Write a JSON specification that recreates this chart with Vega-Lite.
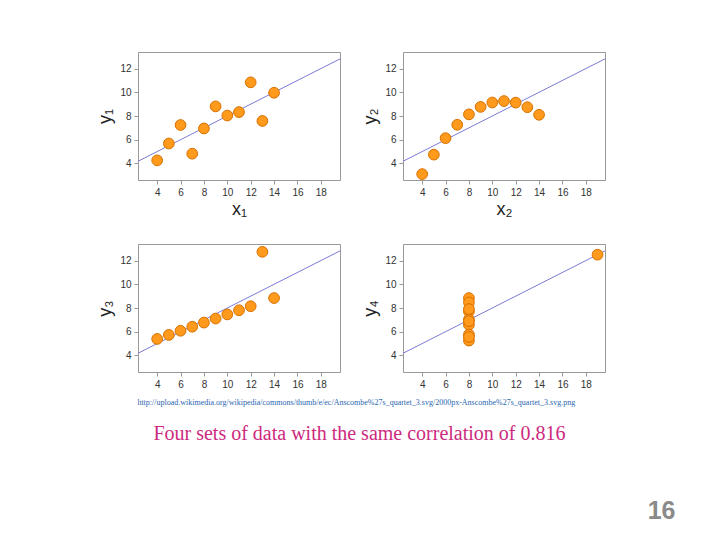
{
  "$schema": "https://vega.github.io/schema/vega-lite/v6.json",
  "background": "white",
  "padding": {"left": 96, "top": 51, "right": 5, "bottom": 5},
  "datasets": {
    "anscombe": [
      {"set": "I", "x": 10, "y": 8.04}, {"set": "I", "x": 8, "y": 6.95}, {"set": "I", "x": 13, "y": 7.58}, {"set": "I", "x": 9, "y": 8.81}, {"set": "I", "x": 11, "y": 8.33}, {"set": "I", "x": 14, "y": 9.96}, {"set": "I", "x": 6, "y": 7.24}, {"set": "I", "x": 4, "y": 4.26}, {"set": "I", "x": 12, "y": 10.84}, {"set": "I", "x": 7, "y": 4.82}, {"set": "I", "x": 5, "y": 5.68},
      {"set": "II", "x": 10, "y": 9.14}, {"set": "II", "x": 8, "y": 8.14}, {"set": "II", "x": 13, "y": 8.74}, {"set": "II", "x": 9, "y": 8.77}, {"set": "II", "x": 11, "y": 9.26}, {"set": "II", "x": 14, "y": 8.10}, {"set": "II", "x": 6, "y": 6.13}, {"set": "II", "x": 4, "y": 3.10}, {"set": "II", "x": 12, "y": 9.13}, {"set": "II", "x": 7, "y": 7.26}, {"set": "II", "x": 5, "y": 4.74},
      {"set": "III", "x": 10, "y": 7.46}, {"set": "III", "x": 8, "y": 6.77}, {"set": "III", "x": 13, "y": 12.74}, {"set": "III", "x": 9, "y": 7.11}, {"set": "III", "x": 11, "y": 7.81}, {"set": "III", "x": 14, "y": 8.84}, {"set": "III", "x": 6, "y": 6.08}, {"set": "III", "x": 4, "y": 5.39}, {"set": "III", "x": 12, "y": 8.15}, {"set": "III", "x": 7, "y": 6.42}, {"set": "III", "x": 5, "y": 5.73},
      {"set": "IV", "x": 8, "y": 6.58}, {"set": "IV", "x": 8, "y": 5.76}, {"set": "IV", "x": 8, "y": 7.71}, {"set": "IV", "x": 8, "y": 8.84}, {"set": "IV", "x": 8, "y": 8.47}, {"set": "IV", "x": 8, "y": 7.04}, {"set": "IV", "x": 8, "y": 5.25}, {"set": "IV", "x": 19, "y": 12.50}, {"set": "IV", "x": 8, "y": 5.56}, {"set": "IV", "x": 8, "y": 7.91}, {"set": "IV", "x": 8, "y": 6.89}
    ],
    "fit": [{"x": 0, "y": 3}, {"x": 20, "y": 13}]
  },
  "config": {
    "view": {"stroke": "#999999", "strokeWidth": 1},
    "axis": {"domain": false, "grid": false, "ticks": true, "tickColor": "#999999", "tickSize": 4, "labelFont": "Liberation Sans", "labelFontSize": 10, "labelColor": "#333333", "labelPadding": 3, "titleFont": "Liberation Sans", "titleFontSize": 18, "titleFontWeight": "normal", "titleColor": "#222222"},
    "axisX": {"titlePadding": 3},
    "axisY": {"titlePadding": 5}
  },
  "title": {"text": "16", "orient": "bottom", "anchor": "end", "font": "Liberation Sans", "fontSize": 25, "fontWeight": "bold", "color": "#8a8a8a", "dx": 70, "dy": 51},
  "vconcat": [
    {
      "title": {"text": "Four sets of data with the same correlation of 0.816", "orient": "bottom", "anchor": "start", "font": "Liberation Serif", "fontSize": 20, "fontWeight": "normal", "color": "#cc2a7e", "dx": 57, "dy": 13},
      "vconcat": [
        {
          "title": {"text": "http://upload.wikimedia.org/wikipedia/commons/thumb/e/ec/Anscombe%27s_quartet_3.svg/2000px-Anscombe%27s_quartet_3.svg.png", "orient": "bottom", "anchor": "start", "font": "Liberation Serif", "fontSize": 8, "fontWeight": "normal", "color": "#2a66b0", "dx": 41, "dy": 5},
          "columns": 2,
          "bounds": "flush",
          "spacing": {"row": 64, "column": 63},
          "concat": [
            {
              "width": 202, "height": 128,
              "layer": [
                {"data": {"name": "fit"}, "mark": {"type": "line", "clip": true, "color": "#7b7bd8", "strokeWidth": 1},
                 "encoding": {"x": {"field": "x", "type": "quantitative"}, "y": {"field": "y", "type": "quantitative"}}},
                {"data": {"name": "anscombe"}, "transform": [{"filter": "datum.set === 'I'"}],
                 "mark": {"type": "point", "filled": true, "fill": "#ff9a1c", "stroke": "#d87000", "strokeWidth": 1, "opacity": 1, "size": 115},
                 "encoding": {"x": {"field": "x", "type": "quantitative"}, "y": {"field": "y", "type": "quantitative"}}}
              ],
              "encoding": {
                "x": {"field": "x", "type": "quantitative", "scale": {"domain": [2.36, 19.64], "nice": false, "zero": false}, "axis": {"values": [4, 6, 8, 10, 12, 14, 16, 18], "title": "x₁"}},
                "y": {"field": "y", "type": "quantitative", "scale": {"domain": [2.6, 13.4], "nice": false, "zero": false}, "axis": {"values": [4, 6, 8, 10, 12], "title": "y₁"}}
              }
            },
            {
              "width": 202, "height": 128,
              "layer": [
                {"data": {"name": "fit"}, "mark": {"type": "line", "clip": true, "color": "#7b7bd8", "strokeWidth": 1},
                 "encoding": {"x": {"field": "x", "type": "quantitative"}, "y": {"field": "y", "type": "quantitative"}}},
                {"data": {"name": "anscombe"}, "transform": [{"filter": "datum.set === 'II'"}],
                 "mark": {"type": "point", "filled": true, "fill": "#ff9a1c", "stroke": "#d87000", "strokeWidth": 1, "opacity": 1, "size": 115},
                 "encoding": {"x": {"field": "x", "type": "quantitative"}, "y": {"field": "y", "type": "quantitative"}}}
              ],
              "encoding": {
                "x": {"field": "x", "type": "quantitative", "scale": {"domain": [2.36, 19.64], "nice": false, "zero": false}, "axis": {"values": [4, 6, 8, 10, 12, 14, 16, 18], "title": "x₂"}},
                "y": {"field": "y", "type": "quantitative", "scale": {"domain": [2.6, 13.4], "nice": false, "zero": false}, "axis": {"values": [4, 6, 8, 10, 12], "title": "y₂"}}
              }
            },
            {
              "width": 202, "height": 128,
              "layer": [
                {"data": {"name": "fit"}, "mark": {"type": "line", "clip": true, "color": "#7b7bd8", "strokeWidth": 1},
                 "encoding": {"x": {"field": "x", "type": "quantitative"}, "y": {"field": "y", "type": "quantitative"}}},
                {"data": {"name": "anscombe"}, "transform": [{"filter": "datum.set === 'III'"}],
                 "mark": {"type": "point", "filled": true, "fill": "#ff9a1c", "stroke": "#d87000", "strokeWidth": 1, "opacity": 1, "size": 115},
                 "encoding": {"x": {"field": "x", "type": "quantitative"}, "y": {"field": "y", "type": "quantitative"}}}
              ],
              "encoding": {
                "x": {"field": "x", "type": "quantitative", "scale": {"domain": [2.36, 19.64], "nice": false, "zero": false}, "axis": {"values": [4, 6, 8, 10, 12, 14, 16, 18], "title": null}},
                "y": {"field": "y", "type": "quantitative", "scale": {"domain": [2.6, 13.4], "nice": false, "zero": false}, "axis": {"values": [4, 6, 8, 10, 12], "title": "y₃"}}
              }
            },
            {
              "width": 202, "height": 128,
              "layer": [
                {"data": {"name": "fit"}, "mark": {"type": "line", "clip": true, "color": "#7b7bd8", "strokeWidth": 1},
                 "encoding": {"x": {"field": "x", "type": "quantitative"}, "y": {"field": "y", "type": "quantitative"}}},
                {"data": {"name": "anscombe"}, "transform": [{"filter": "datum.set === 'IV'"}],
                 "mark": {"type": "point", "filled": true, "fill": "#ff9a1c", "stroke": "#d87000", "strokeWidth": 1, "opacity": 1, "size": 115},
                 "encoding": {"x": {"field": "x", "type": "quantitative"}, "y": {"field": "y", "type": "quantitative"}}}
              ],
              "encoding": {
                "x": {"field": "x", "type": "quantitative", "scale": {"domain": [2.36, 19.64], "nice": false, "zero": false}, "axis": {"values": [4, 6, 8, 10, 12, 14, 16, 18], "title": null}},
                "y": {"field": "y", "type": "quantitative", "scale": {"domain": [2.6, 13.4], "nice": false, "zero": false}, "axis": {"values": [4, 6, 8, 10, 12], "title": "y₄"}}
              }
            }
          ]
        }
      ]
    }
  ]
}
